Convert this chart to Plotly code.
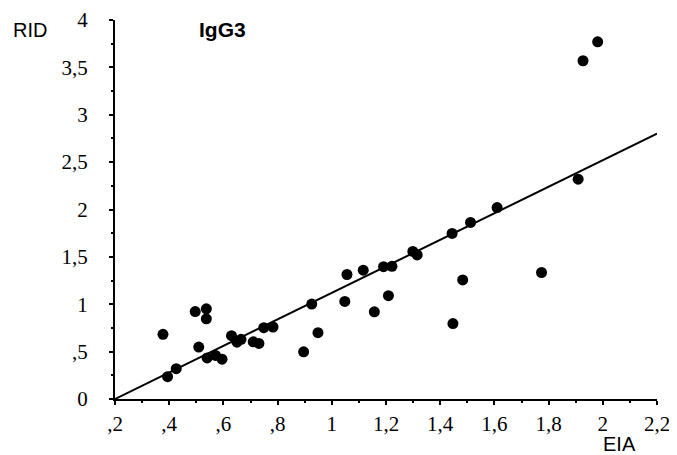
import plotly.graph_objects as go

eia = [0.377, 0.394, 0.426, 0.496, 0.537, 0.537, 0.509, 0.540, 0.571, 0.595,
       0.630, 0.650, 0.665, 0.710, 0.731, 0.749, 0.783, 0.896, 0.926, 0.949,
       1.048, 1.056, 1.116, 1.157, 1.191, 1.222, 1.209, 1.299, 1.315, 1.444,
       1.447, 1.483, 1.512, 1.610, 1.774, 1.909, 1.927, 1.981]
rid = [0.683, 0.236, 0.320, 0.923, 0.952, 0.846, 0.548, 0.434, 0.460, 0.420,
       0.668, 0.600, 0.630, 0.604, 0.587, 0.753, 0.760, 0.498, 1.002, 0.700,
       1.030, 1.314, 1.360, 0.920, 1.396, 1.400, 1.090, 1.558, 1.520, 1.747,
       0.796, 1.257, 1.864, 2.020, 1.335, 2.320, 3.570, 3.770]

line_x = [0.2, 2.2]
line_y = [0.0, 2.8]

x_tickvals = [0.2, 0.4, 0.6, 0.8, 1.0, 1.2, 1.4, 1.6, 1.8, 2.0, 2.2]
x_ticktext = [",2", ",4", ",6", ",8", "1", "1,2", "1,4", "1,6", "1,8", "2", "2,2"]
y_tickvals = [0, 0.5, 1, 1.5, 2, 2.5, 3, 3.5, 4]
y_ticktext = ["0", ",5", "1", "1,5", "2", "2,5", "3", "3,5", "4"]

fig = go.Figure()
fig.add_trace(go.Scatter(x=line_x, y=line_y, mode="lines",
                         line=dict(color="black", width=2), hoverinfo="skip"))
fig.add_trace(go.Scatter(x=eia, y=rid, mode="markers",
                         marker=dict(color="black", size=11)))

tickfont = dict(family="Liberation Serif", size=21, color="black")
fig.update_xaxes(range=[0.2, 2.2], showline=True, linecolor="black", linewidth=2,
                 showgrid=False, zeroline=False, ticks="outside", ticklen=4,
                 tickwidth=2, tickcolor="black", tickvals=x_tickvals,
                 ticktext=x_ticktext, tickfont=tickfont, ticklabelstandoff=1,
                 automargin=False, ticklabeloverflow="allow",
                 minor=dict(ticks="outside", ticklen=2, dtick=0.1, tick0=0.2,
                            tickcolor="black", showgrid=False))
fig.update_yaxes(range=[0, 4], showline=True, linecolor="black", linewidth=2,
                 showgrid=False, zeroline=False, ticks="outside", ticklen=4,
                 tickwidth=2, tickcolor="black", tickvals=y_tickvals,
                 ticktext=y_ticktext, tickfont=tickfont, ticklabelstandoff=17,
                 automargin=False, ticklabeloverflow="allow",
                 minor=dict(ticks="outside", ticklen=2, dtick=0.25, tick0=0,
                            tickcolor="black", showgrid=False))

lab = dict(family="Liberation Sans", size=20, color="black")
fig.update_layout(
    width=677, height=455, showlegend=False,
    paper_bgcolor="white", plot_bgcolor="white",
    margin=dict(l=107, r=28, t=12, b=64),
    annotations=[
        dict(text="RID", x=-0.157, y=0.974, xref="paper", yref="paper",
             xanchor="center", yanchor="middle", showarrow=False, font=lab),
        dict(text="<b>IgG3</b>", x=0.199, y=0.974, xref="paper", yref="paper",
             xanchor="center", yanchor="middle", showarrow=False,
             font=dict(family="Liberation Sans", size=21, color="black")),
        dict(text="EIA", x=0.930, y=-0.118, xref="paper", yref="paper",
             xanchor="center", yanchor="middle", showarrow=False, font=lab),
    ],
)
fig.write_html("out.html")
